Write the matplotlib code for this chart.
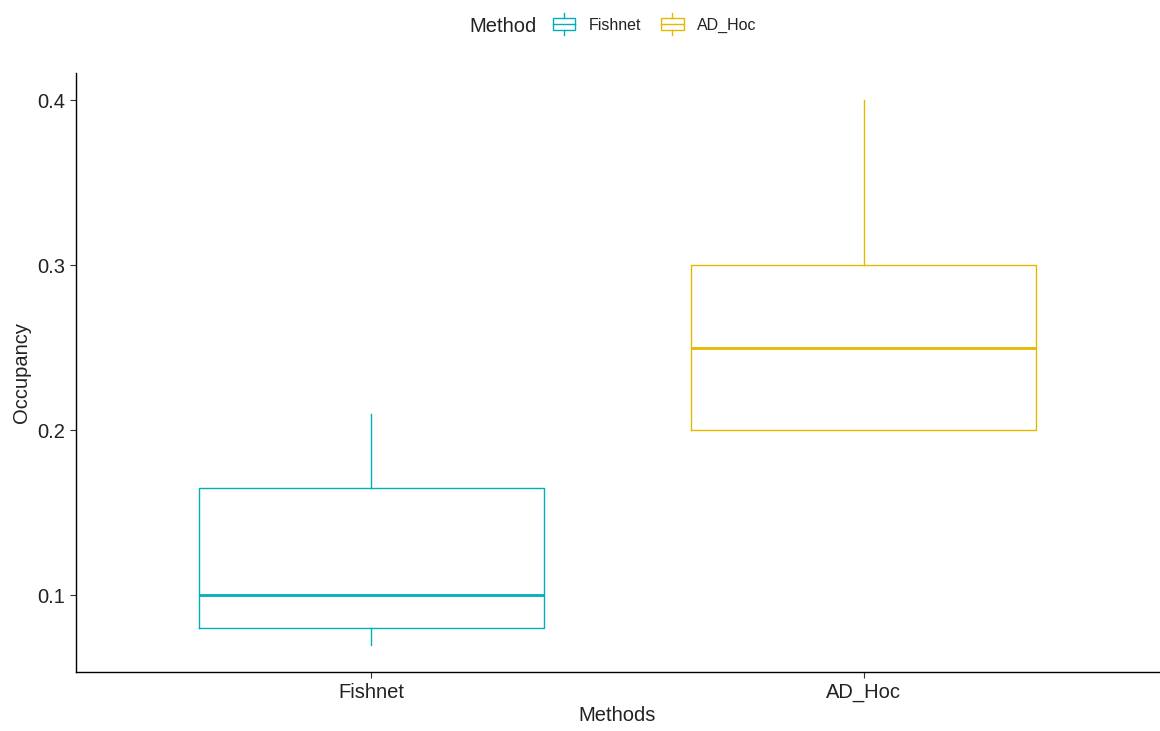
import matplotlib
matplotlib.use("Agg")
import matplotlib.pyplot as plt
from matplotlib.legend_handler import HandlerBase
from matplotlib.patches import Rectangle
from matplotlib.lines import Line2D

plt.rcParams['font.family'] = ['Liberation Sans', 'DejaVu Sans']

methods = ["Fishnet", "AD_Hoc"]
whis_low = [0.07, 0.20]
q1 = [0.08, 0.20]
median = [0.10, 0.25]
q3 = [0.165, 0.30]
whis_high = [0.21, 0.40]
colors = ["#00AFBB", "#E7B800"]

fig = plt.figure(figsize=(11.6, 7.31), dpi=100)
ax = fig.add_axes([76/1160, 59/731, 1 - 76/1160 - 1/1160, (672-73)/731])

stats = []
for i, m in enumerate(methods):
    stats.append(dict(label=m, whislo=whis_low[i], q1=q1[i], med=median[i],
                      q3=q3[i], whishi=whis_high[i], fliers=[]))

positions = [1, 2]
for i in range(len(methods)):
    ax.bxp([stats[i]], positions=[positions[i]], widths=0.7, showcaps=False,
           boxprops=dict(color=colors[i], linewidth=1.0),
           whiskerprops=dict(color=colors[i], linewidth=1.0),
           medianprops=dict(color=colors[i], linewidth=2.0),
           manage_ticks=False)

ax.set_xlim(0.4, 2.6)
lo, hi = min(whis_low), max(whis_high)
pad = (hi - lo) * 0.05
ax.set_ylim(lo - pad, hi + pad)
ax.set_xticks(positions)
ax.set_xticklabels(methods)
ax.set_yticks([0.1, 0.2, 0.3, 0.4])
ax.set_yticklabels(["0.1", "0.2", "0.3", "0.4"])
for s in ["top", "right"]:
    ax.spines[s].set_visible(False)
for s in ["left", "bottom"]:
    ax.spines[s].set_linewidth(1.0)
    ax.spines[s].set_color("black")
ax.tick_params(axis="both", length=4, width=0.8, color="#333333",
               labelsize=14.5, labelcolor="#222222", pad=4)
ax.set_xlabel("Methods", fontsize=14.5, color="#222222", labelpad=3)
ax.set_ylabel("Occupancy", fontsize=14.5, color="#222222", labelpad=4)


class BoxHandler(HandlerBase):
    def create_artists(self, legend, orig_handle, xdescent, ydescent,
                       width, height, fontsize, trans):
        c = orig_handle.get_edgecolor()
        x0, y0 = -xdescent, -ydescent
        w, h = width, height
        bw = w * 0.95
        bx = x0 + (w - bw) / 2
        rect = Rectangle((bx, y0 + h * 0.05), bw, h * 0.9, fill=False,
                         edgecolor=c, linewidth=1.0, transform=trans)
        med = Line2D([bx, bx + bw], [y0 + h * 0.5] * 2, color=c,
                     linewidth=1.0, transform=trans)
        wu = Line2D([x0 + w / 2] * 2, [y0 + h * 0.95, y0 + h * 1.3], color=c,
                    linewidth=1.0, transform=trans)
        wl = Line2D([x0 + w / 2] * 2, [y0 + h * 0.05, y0 - h * 0.3], color=c,
                    linewidth=1.0, transform=trans)
        return [rect, med, wu, wl]


handles = [Rectangle((0, 0), 1, 1, fill=False, edgecolor=c) for c in colors]
fig.text(503/1160, 1 - 26/731, "Method", fontsize=14.5, color="#222222",
         ha="center", va="center")
leg = fig.legend(handles, methods, loc="center left",
                 bbox_to_anchor=(552/1160, 1 - 25/731), ncol=2, frameon=False,
                 handler_map={Rectangle: BoxHandler()}, fontsize=11.5,
                 handlelength=1.5, handleheight=0.95, handletextpad=0.8,
                 columnspacing=1.2, borderaxespad=0, borderpad=0)
for t in leg.get_texts():
    t.set_color("#222222")

fig.savefig("out.png", dpi=100, facecolor="white")
